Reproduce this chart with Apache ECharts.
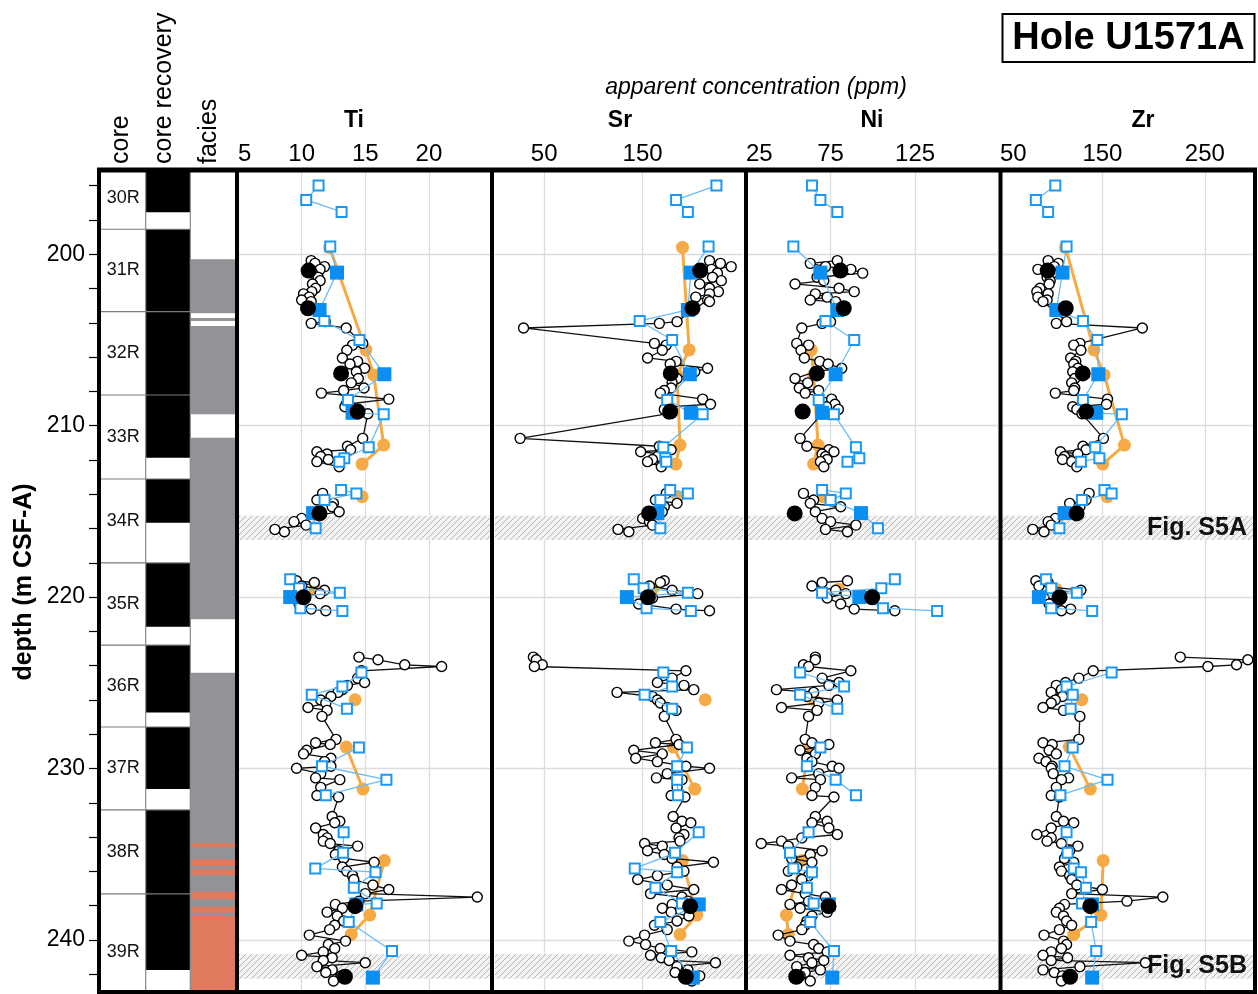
<!DOCTYPE html>
<html>
<head>
<meta charset="utf-8">
<script src="https://cdn.jsdelivr.net/npm/echarts@6/dist/echarts.min.js"></script>
<style>
  html, body { margin: 0; background: #fff; }
  #chart { width: 1258px; height: 994px; }
</style>
</head>
<body>
<div id="chart"></div>
<script>
// depth axis (m CSF-A), shared by every column
const depthTicks = [196, 198, 200, 202, 204, 206, 208, 210, 212, 214, 216, 218, 220, 222, 224, 226, 228, 230, 232, 234, 236, 238, 240, 242];
const depthLabels = [200, 210, 220, 230, 240];

// cores and recovered intervals
const coreNames = ['30R', '31R', '32R', '33R', '34R', '35R', '36R', '37R', '38R', '39R'];
const coreTop = [194.9, 198.54, 203.35, 208.21, 213.11, 218.01, 222.8, 227.58, 232.42, 237.32];
const coreBase = [198.54, 203.35, 208.21, 213.11, 218.01, 222.8, 227.58, 232.42, 237.32, 244.1];
const recTop = [194.9, 198.54, 213.11, 218.01, 222.8, 227.58, 232.42];
const recBase = [197.55, 211.87, 215.66, 221.73, 226.74, 231.2, 241.76];

// facies: grey and red intervals
const greyTop = [200.29, 203.72, 204.18, 210.7, 224.41];
const greyBase = [203.44, 203.89, 209.33, 221.3, 243.2];
const redTop = [234.36, 235.3, 235.88, 237.19, 238.06, 238.6];
const redBase = [234.59, 235.69, 236.23, 237.63, 238.41, 243.2];

// hatched intervals shown in supplementary figures
const figTop = [215.25, 240.84];
const figBase = [216.67, 242.26];
const figNames = ['Fig. S5A', 'Fig. S5B'];

// where the profiles are interrupted (unrecovered core)
const breaksBlack = [212.9, 217.5, 222.3];
const breaksBlue = [198.2, 212.9, 217.5, 222.3, 227.5, 232.3];
const breaksOrange = [212.9, 217.5, 222.3, 227.5, 232.3];

// open circles (black line)
const circleDepth = [
  200.37, 200.53, 200.72, 200.88, 201.1, 201.34, 201.54, 201.73, 201.98, 202.18, 202.31, 202.5, 202.67, 202.76,
  203.93, 204.03, 204.3,
  205.2, 205.3, 205.6, 206.05, 206.25, 206.4, 206.65, 206.85, 207.25, 207.5, 207.8, 207.95, 208.1, 208.45, 208.75, 208.9, 209.05, 209.3,
  210.74, 211.2, 211.4, 211.52, 211.65, 211.8, 211.97, 212.1, 212.4,
  213.95, 214.34, 214.53, 214.73, 215.02, 215.41, 215.6, 215.8, 216.05, 216.19,
  219.05, 219.15, 219.35, 219.6, 219.8, 220.05, 220.4, 220.7, 220.8,
  223.5, 223.66, 223.95, 224.05, 224.3, 224.73, 224.98, 225.15, 225.4, 225.56, 225.8, 226.0, 226.18, 226.44, 226.61, 226.96,
  228.3, 228.5, 228.6, 228.94, 229.15, 229.4, 229.6, 229.87, 229.99, 230.3, 230.55, 230.65, 231.1, 231.58, 231.66,
  232.8, 233.08, 233.17, 233.47, 233.85, 234.05, 234.24, 234.38, 234.53, 234.8, 235.02, 235.25, 235.47, 235.75, 235.99,
  236.25, 236.48, 236.8, 237.06, 237.3, 237.5, 237.74, 237.93, 238.15, 238.38, 238.61, 238.9, 239.15, 239.4, 239.72,
  240.07, 240.27, 240.5, 240.7, 240.9, 241.04, 241.2, 241.33, 241.56, 241.75, 241.9, 242.1, 242.4
];
const circleTi = [
  10.75, 11.05, 11.8, 11.45, 10.85, 11.3, 11.45, 10.85, 11.1, 10.8, 10.15, 10.6, 10.0, 10.75,
  11.85, 10.75, 13.5,
  14.8, 14.0, 13.55, 13.2, 14.4, 13.8, 14.95, 14.3, 14.45, 13.9, 14.9, 13.3, 11.55, 16.85, 13.5, 13.4, 13.95, 15.2,
  14.8, 13.6, 13.85, 11.2, 12.0, 11.5, 12.1, 11.2, 12.95,
  11.65, 11.2, 12.5, 12.4, 12.95, 10.0, 9.4, 10.35, 7.9, 8.65,
  9.6, 11.0, 10.0, 11.8, 11.45, 9.3, 9.8, 10.75, 11.9,
  14.5, 16.0, 18.1, 21.0, 14.7, 14.4, 14.95, 13.6, 13.2, 12.85, 12.3, 11.5, 11.9, 10.5, 12.0, 11.6,
  12.7, 11.1, 12.25, 10.4, 10.15, 12.3, 11.8, 12.3, 9.6, 11.5, 11.1, 13.0, 11.5, 11.2, 12.9,
  12.4, 13.0, 12.6, 11.1, 11.7, 12.0, 11.7, 12.25, 14.4, 12.9, 12.65, 13.3, 15.7, 13.2, 13.55,
  14.0, 14.1, 15.6, 16.85, 15.0, 23.8, 14.5, 12.65, 13.2, 12.0, 12.8, 13.3, 12.6, 12.2, 10.6,
  13.45, 12.1, 12.6, 11.7, 10.0, 12.4, 11.7, 15.0, 11.2, 12.4, 11.9, 13.1, 12.5
];
const circleSr = [
  218, 229, 240, 220, 226, 221, 230, 208, 218, 227, 218, 204, 216, 218,
  185, 167, 29,
  162, 174, 170, 155, 184, 178, 216, 203, 185, 180, 179, 172, 168, 211, 219, 175, 172, 176,
  25.5, 167, 179, 148, 168, 165, 160, 155, 169,
  174, 163, 185, 172, 170, 150, 157, 160, 125, 136,
  172, 168, 157, 180, 206, 160, 146, 184, 218,
  39, 42, 48, 40, 194, 180, 165, 192, 202, 124, 160, 165, 168, 175, 184, 172,
  184, 163, 187, 141, 170, 143, 165, 194, 218, 175, 164, 190, 185, 179, 193,
  181, 190, 199, 184, 192, 187, 188, 152, 170, 155, 172, 180, 222, 185, 192,
  165, 145, 175, 202, 158, 190, 196, 180, 170, 179, 197, 185, 162, 175, 152,
  136, 153, 168, 200, 158, 169, 177, 224, 185, 196, 183, 208, 200
];
const circleNi = [
  79, 63, 72, 87, 94, 67, 71, 54, 80, 89, 66, 73, 63, 78,
  75, 70, 58,
  55, 62, 57.5, 59.5, 68.6, 73.6, 81.6, 66, 54, 61.5, 56.5, 68, 60, 75.6, 77.6, 72.6, 79.6, 70,
  57, 61, 74, 77, 70, 72, 73, 69, 71,
  59, 65, 63, 81, 66, 70, 75, 90, 72, 85,
  85, 70, 64, 78, 84, 73, 81, 89, 113,
  66, 66, 59, 62, 87, 70, 80, 74, 43, 65, 61, 79, 68, 46, 67, 62,
  60, 64, 74, 57, 66, 61, 64, 76, 80, 68, 52, 69, 66, 64, 77,
  66, 73, 64, 74, 79, 58, 46, 34, 50, 70, 63, 52, 64, 55, 50,
  62, 58, 52, 46, 60, 72, 62, 51, 57, 73, 64, 61, 60, 58, 44,
  51, 65, 68, 73, 51, 62, 71, 64, 55, 69, 60, 57, 63
];
const circleZr = [
  97, 107, 103, 87, 101, 96, 99, 98, 89, 86, 97, 87, 96, 92,
  115, 105, 189,
  128, 122, 129, 119, 124, 122, 126, 121, 123, 120, 123, 122, 104, 155, 154, 121, 125, 130,
  151, 131, 134, 109, 126, 113, 111, 120, 125,
  137, 134, 118, 128, 125, 104, 97, 100, 82, 93,
  85, 97, 88, 129, 100, 93, 98, 119, 110,
  226, 292, 281, 253, 141, 127, 114, 105, 110, 100, 111, 104, 100, 92, 112, 128,
  127, 92, 101, 98, 105, 88, 95, 101, 100, 102, 117, 110, 105, 100, 108,
  105, 112, 122, 100, 86, 100, 96, 110, 126, 118, 115, 113, 122, 108, 110,
  118, 120, 125, 150, 120, 209, 174, 113, 108, 105, 112, 115, 120, 108, 93,
  112, 115, 110, 100, 92, 116, 100, 192, 128, 92, 103, 111, 110
];

// large black dots
const dotDepth = [200.95, 203.15, 206.95, 209.18, 215.12, 220.01, 238.03, 242.15];
const dotTi = [10.55, 10.5, 13.1, 14.4, 11.4, 10.15, 14.2, 13.4];
const dotSr = [208.5, 200.7, 178.6, 178, 156.5, 155.4, 198.3, 193.9];
const dotNi = [80.8, 82.8, 66.9, 58.5, 53.8, 99.6, 73.8, 54.7];
const dotZr = [96.6, 114.2, 130.8, 134.1, 124.8, 108.2, 138.2, 118.4];

// open blue squares
const sqDepth = [195.99, 196.83, 197.53, 199.55, 203.89, 205.0, 208.5, 209.34, 211.26, 211.9, 212.1, 213.75, 213.95, 214.34, 215.99, 218.96, 219.49, 219.74, 220.65, 220.81, 224.4, 225.21, 225.7, 226.51, 228.77, 229.87, 230.65, 231.56, 233.72, 234.92, 235.83, 236.05, 236.96, 237.87, 238.96, 240.65];
const sqTi = [11.33, 10.36, 13.14, 12.25, 11.78, 14.54, 13.64, 16.45, 15.27, 13.35, 12.96, 13.1, 14.3, 11.8, 11.1, 9.1, 9.8, 13.0, 9.9, 13.2, 14.7, 13.2, 10.8, 13.56, 14.5, 11.6, 16.66, 11.9, 13.3, 13.25, 11.07, 15.8, 14.1, 15.9, 13.7, 17.1];
const sqSr = [225, 184, 196, 217, 147, 180, 175, 211, 171, 173, 174, 178, 196, 168, 168, 141, 151, 196, 154, 199, 171, 180, 152, 180, 195, 185, 185, 186, 207, 183, 142, 185, 163, 190, 168, 179];
const sqNi = [64, 69, 79, 53, 72, 89, 68, 77, 90, 92, 85, 70, 84, 75, 103, 113, 105, 70, 106, 138, 57, 83, 57, 79, 69, 61, 78, 90, 62, 51, 53, 64, 61, 65, 63, 77];
const sqZr = [104, 85, 97, 115, 131, 145, 131, 169, 143, 147, 129, 152, 159, 130, 108, 95, 100, 125, 100, 140, 159, 115, 121, 119, 121, 113, 155, 109, 115, 116, 122, 129, 134, 130, 139, 144];

// filled blue squares
const sqFillDepth = [201.07, 203.25, 207.0, 209.25, 215.1, 220.0, 237.93, 242.2];
const sqFillTi = [12.78, 11.41, 16.5, 14.0, 10.9, 9.1, 14.3, 15.6];
const sqFillSr = [199, 196, 198, 199, 165, 134, 207, 201];
const sqFillNi = [69, 79, 78, 70, 93, 92, 74, 76];
const sqFillZr = [111, 105, 146, 144, 113, 88, 140, 140];

// orange points (null = not plotted for that element)
const orangeDepth = [199.6, 205.58, 207.04, 211.13, 212.24, 214.14, 219.54, 225.99, 228.75, 231.2, 235.37, 238.55, 239.68];
const orangeTi = [12.2, 15.05, 15.66, 16.45, 14.75, 14.75, 11.07, 14.2, 13.5, 14.82, 16.5, 15.35, 13.9];
const orangeSr = [190.5, 197.3, 185, 188, 183.7, 186, 160, 213.6, 181.3, 203, 190.5, 205, 188];
const orangeNi = [null, 63.6, 65, 67.6, 65, 70.8, 80, 65.3, 62, 58.3, 58, 48.9, 50];
const orangeZr = [114, 141.8, 151.7, 171.5, 150.3, 154.6, 104.6, 129.9, 117.7, 138.2, 150.8, 148.5, 122];

// x ticks of the four panels
const tiTicks = [5, 10, 15, 20];
const srTicks = [50, 150];
const niTicks = [25, 75, 125];
const zrTicks = [50, 150, 250];

const FONT = '"Liberation Sans", Arial, Helvetica, sans-serif';
const Y_MIN = 195.2, Y_MAX = 243.04;
const GRID_TOP = 172, GRID_H = 820;

const panels = [
  { name: 'Ti', left: 238, width: 252, min: 5, max: 24.8, ticks: tiTicks, titleX: 354,
    circle: circleTi, dot: dotTi, sq: sqTi, sqFill: sqFillTi, orange: orangeTi },
  { name: 'Sr', left: 495, width: 248, min: 0, max: 252, ticks: srTicks, titleX: 620,
    circle: circleSr, dot: dotSr, sq: sqSr, sqFill: sqFillSr, orange: orangeSr },
  { name: 'Ni', left: 746, width: 252, min: 25, max: 174, ticks: niTicks, titleX: 872,
    circle: circleNi, dot: dotNi, sq: sqNi, sqFill: sqFillNi, orange: orangeNi },
  { name: 'Zr', left: 1000, width: 255, min: 50, max: 299, ticks: zrTicks, titleX: 1143,
    circle: circleZr, dot: dotZr, sq: sqZr, sqFill: sqFillZr, orange: orangeZr }
];

const BLUE = '#1a98f5';
const BLUE_FILL = '#0b8ef2';
const BLUE_LINE = '#6bbcf5';
const ORANGE = '#f6aa45';
const GRID_LINE = '#dcdcdc';

// line data with gaps where core was not recovered
function profile(vals, depths, breaks) {
  const out = [];
  for (let i = 0; i < depths.length; i++) {
    if (i > 0 && breaks.some(b => depths[i - 1] < b && depths[i] > b)) out.push(['-', '-']);
    out.push(vals[i] == null ? ['-', '-'] : [vals[i], depths[i]]);
  }
  return out;
}

const clampD = d => Math.max(Y_MIN, Math.min(Y_MAX, d));

function intervalSeries(tops, bases, x0, x1, color) {
  return {
    type: 'custom', xAxisIndex: 0, yAxisIndex: 0, silent: true, z: 2,
    data: tops.map((t, i) => [t, bases[i]]),
    renderItem: (params, api) => {
      const a = api.coord([x0, clampD(api.value(0))]);
      const b = api.coord([x1, clampD(api.value(1))]);
      return { type: 'rect', shape: { x: a[0], y: a[1], width: b[0] - a[0], height: b[1] - a[1] },
        style: { fill: color } };
    }
  };
}

// hatch pattern for the figure intervals
const hatch = document.createElement('canvas');
hatch.width = 6; hatch.height = 6;
(() => {
  const c = hatch.getContext('2d');
  c.fillStyle = '#f3f3f3';
  c.fillRect(0, 0, 6, 6);
  c.strokeStyle = '#b5b5b5';
  c.lineWidth = 1;
  c.beginPath();
  c.moveTo(-1, 7); c.lineTo(7, -1);
  c.moveTo(-1, 1); c.lineTo(1, -1);
  c.moveTo(5, 7); c.lineTo(7, 5);
  c.stroke();
})();

const grids = [{ left: 101, top: GRID_TOP, width: 134, height: GRID_H }];
const xAxes = [{ gridIndex: 0, type: 'value', min: 0, max: 3, show: false }];
const yAxes = [{
  gridIndex: 0, type: 'value', inverse: true, min: Y_MIN, max: Y_MAX, position: 'left',
  name: 'depth (m CSF-A)', nameLocation: 'middle', nameGap: 64, nameRotate: 90,
  nameTextStyle: { fontSize: 25, fontWeight: 'bold', color: '#000', fontFamily: FONT },
  axisLine: { show: false },
  axisTick: { show: true, length: 12, customValues: depthTicks, lineStyle: { color: '#000', width: 1.2 } },
  axisLabel: { customValues: depthLabels, fontSize: 23, margin: 16, color: '#000', fontFamily: FONT },
  splitLine: { show: false }
}];

const series = [
  intervalSeries(recTop, recBase, 1, 2, '#000'),
  intervalSeries(greyTop, greyBase, 2, 3, '#939397'),
  intervalSeries(redTop, redBase, 2, 3, '#e07a5f'),
  {
    type: 'custom', xAxisIndex: 0, yAxisIndex: 0, silent: true, z: 3,
    data: coreTop.map((t, i) => [t, coreBase[i]]),
    renderItem: (params, api) => {
      const top = api.value(0), base = api.value(1);
      const children = [];
      if (top > Y_MIN) {
        const p = api.coord([0, top]), q = api.coord([2, top]);
        children.push({ type: 'line', shape: { x1: p[0], y1: p[1], x2: q[0], y2: q[1] },
          style: { stroke: '#7a7a7a', lineWidth: 1.2 } });
      }
      const c = api.coord([0.5, (top + base) / 2]);
      children.push({ type: 'text', x: c[0], y: c[1],
        style: { text: coreNames[params.dataIndex], fill: '#111', fontSize: 18, fontFamily: FONT,
          align: 'center', verticalAlign: 'middle' } });
      return { type: 'group', children };
    }
  }
];

panels.forEach((p, k) => {
  const gi = k + 1;
  grids.push({ left: p.left, top: GRID_TOP, width: p.width, height: GRID_H });
  xAxes.push({
    gridIndex: gi, type: 'value', position: 'top', min: p.min, max: p.max,
    axisLine: { show: false },
    axisTick: { show: false, customValues: p.ticks },
    axisLabel: { customValues: p.ticks, fontSize: 24, margin: 6, color: '#000', fontFamily: FONT,
      alignMinLabel: p.ticks[0] === p.min ? 'left' : null },
    splitLine: { show: true, lineStyle: { color: GRID_LINE, width: 1.3 } }
  });
  yAxes.push({
    gridIndex: gi, type: 'value', inverse: true, min: Y_MIN, max: Y_MAX,
    axisLine: { show: false },
    axisTick: { show: false, customValues: depthLabels },
    axisLabel: { show: false },
    splitLine: { show: true, lineStyle: { color: GRID_LINE, width: 1.3 } }
  });

  const blueDepth = sqDepth.concat(sqFillDepth);
  const blueVal = p.sq.concat(p.sqFill);
  const order = blueDepth.map((d, i) => i).sort((a, b) => blueDepth[a] - blueDepth[b]);

  series.push(
    {
      type: 'line', xAxisIndex: gi, yAxisIndex: gi, z: 2, silent: true,
      data: profile(p.orange, orangeDepth, breaksOrange),
      symbol: 'circle', symbolSize: 13,
      itemStyle: { color: ORANGE, opacity: 1 },
      lineStyle: { color: ORANGE, width: 3 },
      markArea: {
        silent: true,
        itemStyle: { color: { image: hatch, repeat: 'repeat' } },
        label: {
          show: p.name === 'Zr', position: 'insideRight', distance: 8,
          fontSize: 25, fontWeight: 'bold', color: '#111', fontFamily: FONT
        },
        data: figTop.map((t, i) => [{ yAxis: t, name: figNames[i] }, { yAxis: figBase[i] }])
      }
    },
    {
      type: 'line', xAxisIndex: gi, yAxisIndex: gi, z: 3, silent: true,
      data: profile(p.circle, circleDepth, breaksBlack),
      symbol: 'circle', symbolSize: 10,
      itemStyle: { color: '#fff', borderColor: '#000', borderWidth: 1.4, opacity: 1 },
      lineStyle: { color: '#111', width: 1.3 }
    },
    {
      type: 'line', xAxisIndex: gi, yAxisIndex: gi, z: 4, silent: true,
      data: profile(order.map(i => blueVal[i]), order.map(i => blueDepth[i]), breaksBlue),
      symbol: 'none',
      lineStyle: { color: BLUE_LINE, width: 1.3 }
    },
    {
      type: 'scatter', xAxisIndex: gi, yAxisIndex: gi, z: 5, silent: true,
      data: sqDepth.map((d, i) => [p.sq[i], d]),
      symbol: 'rect', symbolSize: 10,
      itemStyle: { color: '#fff', borderColor: BLUE, borderWidth: 2, opacity: 1 }
    },
    {
      type: 'scatter', xAxisIndex: gi, yAxisIndex: gi, z: 5, silent: true,
      data: sqFillDepth.map((d, i) => [p.sqFill[i], d]),
      symbol: 'rect', symbolSize: 14,
      itemStyle: { color: BLUE_FILL, opacity: 1 }
    },
    {
      type: 'scatter', xAxisIndex: gi, yAxisIndex: gi, z: 6, silent: true,
      data: dotDepth.map((d, i) => [p.dot[i], d]),
      symbol: 'circle', symbolSize: 16,
      itemStyle: { color: '#000', opacity: 1 }
    }
  );
});

// frames, column headings and titles
const graphic = [];
const thick = (x1, y1, x2, y2, w) => graphic.push({ type: 'line', z: 100, silent: true,
  shape: { x1, y1, x2, y2 }, style: { stroke: '#000', lineWidth: w } });
thick(97, 170, 1257, 170, 5);
thick(97, 992, 1257, 992, 4);
[99, 237, 492, 746, 1000.5, 1255].forEach(x => thick(x, 168, x, 994, 4));
[145.7, 190.3].forEach(x => graphic.push({ type: 'line', z: 99, silent: true,
  shape: { x1: x, y1: 172, x2: x, y2: 990 }, style: { stroke: '#888', lineWidth: 1.2 } }));

[['core', 121], ['core recovery', 164], ['facies', 209]].forEach(([t, x]) => graphic.push({
  type: 'text', x, y: 164, rotation: Math.PI / 2, z: 100, silent: true,
  style: { text: t, fontSize: 25, fontFamily: FONT, fill: '#000', align: 'left', verticalAlign: 'middle' }
}));
panels.forEach(p => graphic.push({
  type: 'text', x: p.titleX, y: 121, z: 100, silent: true,
  style: { text: p.name, fontSize: 23, fontWeight: 'bold', fontFamily: FONT, fill: '#000',
    align: 'center', verticalAlign: 'middle' }
}));
graphic.push({
  type: 'text', x: 756, y: 88, z: 100, silent: true,
  style: { text: 'apparent concentration (ppm)', fontSize: 23, fontStyle: 'italic', fontFamily: FONT,
    fill: '#000', align: 'center', verticalAlign: 'middle' }
});
graphic.push({
  type: 'rect', z: 100, silent: true, shape: { x: 1002.5, y: 14, width: 252, height: 48 },
  style: { fill: '#fff', stroke: '#000', lineWidth: 2 }
});
graphic.push({
  type: 'text', x: 1128.5, y: 39, z: 101, silent: true,
  style: { text: 'Hole U1571A', fontSize: 38, fontWeight: 'bold', fontFamily: FONT, fill: '#000',
    align: 'center', verticalAlign: 'middle' }
});

const chart = echarts.init(document.getElementById('chart'), null, { renderer: 'canvas' });
chart.setOption({
  backgroundColor: '#fff',
  animation: false,
  textStyle: { fontFamily: FONT },
  grid: grids,
  xAxis: xAxes,
  yAxis: yAxes,
  series,
  graphic
});
</script>
</body>
</html>
